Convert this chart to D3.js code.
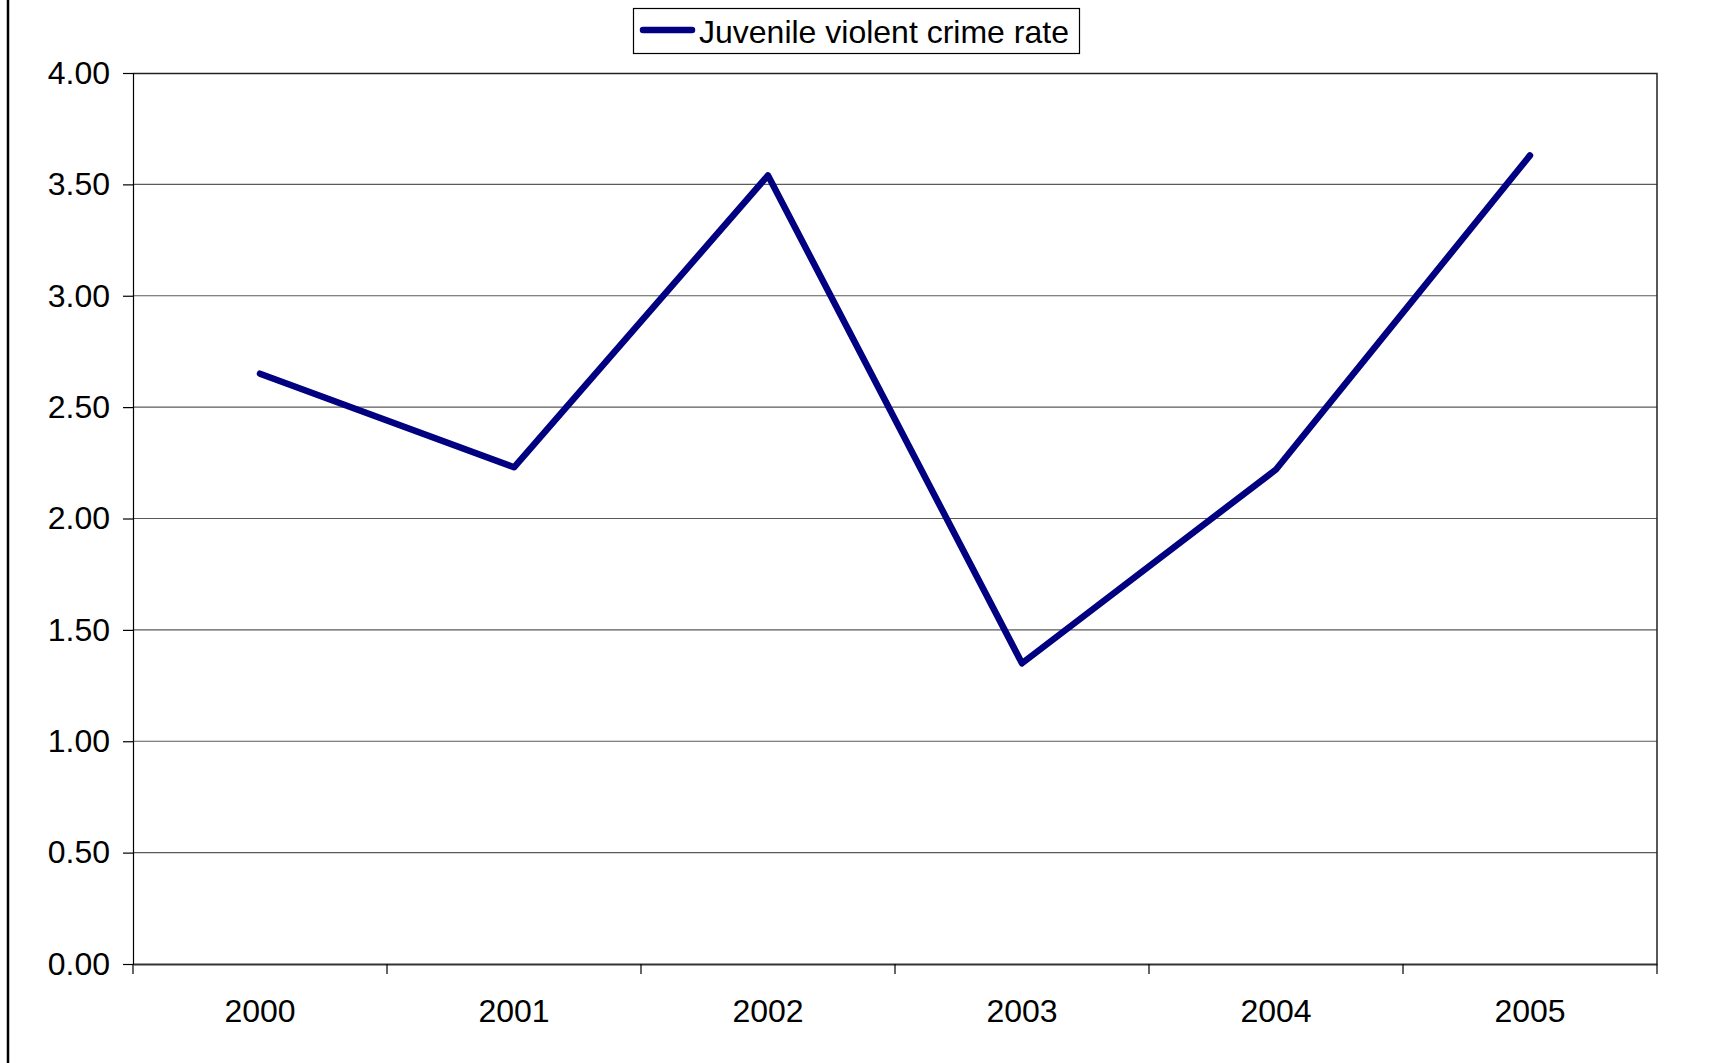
<!DOCTYPE html>
<html lang="en">
<head>
<meta charset="UTF-8">
<title>Juvenile violent crime rate</title>
<style>
  body { margin: 0; background: #fff; }
  text { font-family: Arial, "Liberation Sans", sans-serif; }
</style>
</head>
<body>
<svg id="svgId"></svg>
<script src="https://cdn.jsdelivr.net/npm/d3@7/dist/d3.min.js"></script>
<script>
    // Data
    const years = ['2000', '2001', '2002', '2003', '2004', '2005'];
    const crimeRate = [2.65, 2.23, 3.54, 1.35, 2.22, 3.63];
    const yTicks = [0, 0.5, 1, 1.5, 2, 2.5, 3, 3.5, 4];
    const seriesName = 'Juvenile violent crime rate';

    const svgWidth = 1732, svgHeight = 1063;
    const margin = {top: 73, right: 75, bottom: 99, left: 133};
    const width = svgWidth - margin.left - margin.right;
    const height = svgHeight - margin.top - margin.bottom;
    const lineColor = '#000080';
    const fontSize = 32;

    const root = d3.select('#svgId')
        .attr('width', svgWidth)
        .attr('height', svgHeight);

    // outer chart frame (only left edge visible)
    root.append('line')
        .attr('x1', 8).attr('x2', 8)
        .attr('y1', 0).attr('y2', svgHeight)
        .attr('stroke', '#000').attr('stroke-width', 2.5);

    const svg = root.append('g')
        .attr('transform', `translate(${margin.left},${margin.top})`);

    const xScale = d3.scaleBand().domain(years).range([0, width]);
    const yScale = d3.scaleLinear().domain([0, 4]).range([height, 0]);

    // gridlines
    svg.append('g')
        .selectAll('line')
        .data(yTicks.slice(1, -1))
        .join('line')
        .attr('x1', 0).attr('x2', width)
        .attr('y1', d => yScale(d)).attr('y2', d => yScale(d))
        .attr('stroke', '#5a5a5a').attr('stroke-width', 1.2);

    // plot border (top / right)
    svg.append('path')
        .attr('d', `M0,0.5H${width}V${height}`)
        .attr('fill', 'none')
        .attr('stroke', '#222').attr('stroke-width', 1.5);

    // y axis
    const yAxis = svg.append('g')
        .call(d3.axisLeft(yScale).tickValues(yTicks).tickFormat(d3.format('.2f')).tickSize(10).tickPadding(13));
    yAxis.select('.domain').attr('stroke', '#000').attr('stroke-width', 1.2);
    yAxis.selectAll('.tick line').attr('stroke', '#000').attr('stroke-width', 1.2);
    yAxis.selectAll('text').attr('font-size', fontSize).attr('fill', '#000')
        .attr('font-family', 'Arial, "Liberation Sans", sans-serif');

    // x axis
    const xAxis = svg.append('g')
        .attr('transform', `translate(0,${height})`)
        .call(d3.axisBottom(xScale).tickSize(0).tickPadding(35));
    xAxis.select('.domain').attr('stroke', '#333').attr('stroke-width', 2);
    xAxis.selectAll('text').attr('font-size', fontSize).attr('fill', '#000')
        .attr('font-family', 'Arial, "Liberation Sans", sans-serif');

    // category boundary ticks
    svg.append('g')
        .selectAll('line')
        .data(years.map(y => xScale(y)).concat([width]))
        .join('line')
        .attr('x1', d => d).attr('x2', d => d)
        .attr('y1', height).attr('y2', height + 10)
        .attr('stroke', '#000').attr('stroke-width', 1.2);

    // series line
    const line = d3.line()
        .x((d, i) => xScale(years[i]) + xScale.bandwidth() / 2)
        .y(d => yScale(d));

    svg.append('path')
        .datum(crimeRate)
        .attr('fill', 'none')
        .attr('stroke', lineColor)
        .attr('stroke-width', 6.5)
        .attr('stroke-linejoin', 'round')
        .attr('stroke-linecap', 'round')
        .attr('d', line);

    // legend
    const legend = root.append('g');
    legend.append('rect')
        .attr('x', 633.5).attr('y', 8.5)
        .attr('width', 446).attr('height', 45)
        .attr('fill', '#fff').attr('stroke', '#000').attr('stroke-width', 1.2);
    legend.append('line')
        .attr('x1', 643).attr('x2', 692)
        .attr('y1', 30).attr('y2', 30)
        .attr('stroke', lineColor).attr('stroke-width', 6.5)
        .attr('stroke-linecap', 'round');
    legend.append('text')
        .attr('x', 699).attr('y', 43)
        .attr('font-size', fontSize)
        .attr('fill', '#000')
        .text(seriesName);
</script>
</body>
</html>
